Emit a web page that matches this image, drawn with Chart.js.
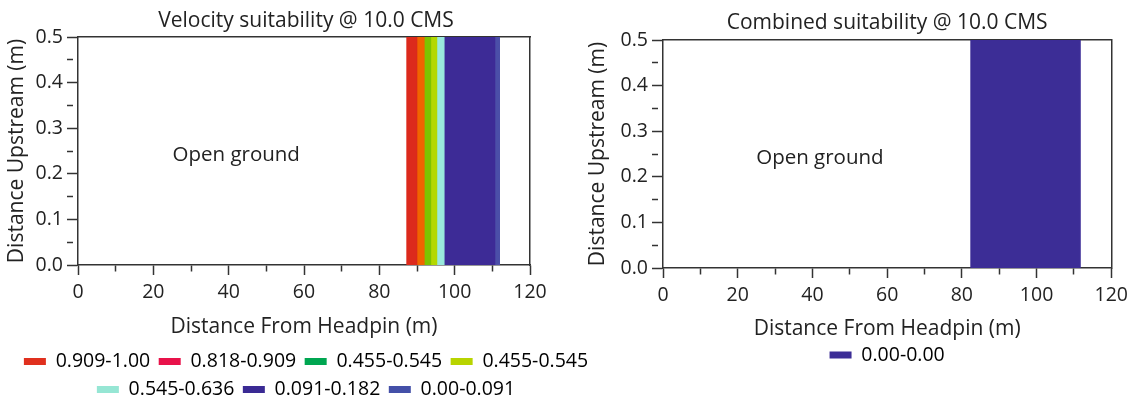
<!DOCTYPE html>
<html>
<head>
<meta charset="utf-8">
<script src="https://cdn.jsdelivr.net/npm/chart.js@4.4.0/dist/chart.umd.min.js"></script>
<style>
  body { margin: 0; background: #fff; width: 1134px; height: 402px; overflow: hidden; position: relative; }
  canvas { position: absolute; top: 0; }
  #velocityChart { left: 0; }
  #combinedChart { left: 580px; }
</style>
</head>
<body>
<canvas id="velocityChart" width="612" height="410"></canvas>
<canvas id="combinedChart" width="554" height="410"></canvas>
<script>
// suitability bands across the reach, distance in m from the headpin
const velocityLabels = ['0.909-1.00', '0.818-0.909', '0.455-0.545', '0.455-0.545', '0.545-0.636', '0.091-0.182', '0.00-0.091'];
const velocityStart = [87.3, 89.9, 91.8, 93.6, 95.2, 97.1, 110.6];
const velocityEnd = [89.9, 91.8, 93.6, 95.2, 97.1, 110.6, 111.9];
const velocityFill = ['#dc2a1c', '#f06400', '#7cc400', '#b4d800', '#9ae9dc', '#3d2b96', '#4b4fa8'];
const velocityKey = ['#e0301e', '#e8124a', '#00a651', '#b8d400', '#96e6d4', '#3a2a94', '#4450a8'];

const combinedLabels = ['0.00-0.00'];
const combinedStart = [82.4];
const combinedEnd = [111.6];
const combinedFill = ['#3c2d96'];
const combinedKey = ['#3c2d96'];

// every band covers the full upstream depth
const bandTop = 0.5;
const xMax = 120;
const xLabelEvery = 20;
const yLabelEvery = 0.1;

const axisColor = '#333';
Chart.defaults.font.family = "'Open Sans', sans-serif";
Chart.defaults.font.size = 19.5;
Chart.defaults.color = '#222';

// "Open ground" note, placed in data units
const groundLabel = {
  id: 'groundLabel',
  afterDatasetsDraw(chart, args, opts) {
    const { ctx, scales: { x, y } } = chart;
    ctx.save();
    ctx.font = "20.5px 'Open Sans', sans-serif";
    ctx.fillStyle = '#222';
    ctx.textAlign = 'center';
    ctx.textBaseline = 'middle';
    ctx.fillText(opts.text, x.getPixelForValue(opts.x), y.getPixelForValue(opts.y));
    ctx.restore();
  }
};

function bandDatasets(labels, start, end, fill) {
  return labels.map((label, i) => ({
    label: label,
    data: [
      { x: start[i], y: 0 },
      { x: start[i], y: bandTop },
      { x: end[i], y: bandTop },
      { x: end[i], y: 0 }
    ],
    showLine: true,
    fill: 'origin',
    backgroundColor: fill[i],
    borderColor: fill[i],
    borderWidth: 1,
    pointRadius: 0
  }));
}

function isMinor(value, every) {
  return Math.abs(value / every - Math.round(value / every)) > 1e-6;
}

function initChart(canvas, setup) {
  const data = { datasets: bandDatasets(setup.labels, setup.start, setup.end, setup.fill) };

  const config = {
    type: 'scatter',
    data: data,
    options: {
      responsive: false,
      animation: false,
      layout: { padding: { bottom: setup.bottomPad } },
      scales: {
        x: {
          type: 'linear',
          min: 0,
          max: xMax,
          ticks: {
            stepSize: 10,
            maxTicksLimit: 20,
            autoSkip: false,
            maxRotation: 0,
            padding: 6,
            callback: (v) => (isMinor(v, xLabelEvery) ? '' : v)
          },
          grid: {
            drawOnChartArea: false,
            tickLength: 10,
            tickColor: axisColor,
            tickWidth: 1.5,
            tickBorderDash: (ctx) => (ctx.tick && isMinor(ctx.tick.value, xLabelEvery) ? [6, 30] : [])
          },
          border: { color: axisColor, width: 1.5 },
          title: {
            display: true,
            text: 'Distance From Headpin (m)',
            font: { size: 21 },
            padding: { top: 0, bottom: setup.xTitlePad }
          },
          afterFit: (s) => { s.height = setup.xHeight; }
        },
        y: {
          type: 'linear',
          min: 0,
          max: bandTop,
          ticks: {
            stepSize: 0.05,
            maxTicksLimit: 20,
            autoSkip: false,
            padding: 4,
            callback: (v) => (isMinor(v, yLabelEvery) ? '' : v.toFixed(1))
          },
          grid: {
            drawOnChartArea: false,
            tickLength: 11,
            tickColor: axisColor,
            tickWidth: 1.5,
            tickBorderDash: (ctx) => (ctx.tick && isMinor(ctx.tick.value, yLabelEvery) ? [6, 30] : [])
          },
          border: { color: axisColor, width: 1.5 },
          title: {
            display: true,
            text: 'Distance Upstream (m)',
            font: { size: 21 },
            padding: { top: setup.yTitlePad, bottom: 0 }
          },
          afterFit: (s) => { s.width = setup.yWidth; }
        },
        // plain frame lines along the top and right of the plot
        x2: {
          position: 'top',
          ticks: { display: false },
          grid: { drawOnChartArea: false, drawTicks: false },
          border: { color: axisColor, width: 1.5 }
        },
        y2: {
          position: 'right',
          ticks: { display: false },
          grid: { drawOnChartArea: false, drawTicks: false },
          border: { color: axisColor, width: 1.5 },
          afterFit: (s) => { s.width = setup.rightWidth; }
        }
      },
      plugins: {
        title: {
          display: true,
          text: setup.title,
          fullSize: setup.fullSize,
          font: { size: 21, weight: 'normal' },
          padding: setup.titlePad
        },
        legend: {
          position: 'bottom',
          fullSize: setup.fullSize,
          labels: {
            boxWidth: 22,
            boxHeight: 7,
            padding: setup.legendPad,
            generateLabels: (chart) => chart.data.datasets.map((ds, i) => ({
              text: ds.label,
              fillStyle: setup.key[i],
              strokeStyle: setup.key[i],
              lineWidth: 0,
              hidden: false,
              datasetIndex: i
            }))
          }
        },
        tooltip: { enabled: false },
        groundLabel: { text: 'Open ground', x: 42, y: 0.24 }
      }
    },
    plugins: [groundLabel]
  };

  return new Chart(canvas, config);
}

function mainEvent() {
  initChart(document.querySelector('#velocityChart'), {
    title: 'Velocity suitability @ 10.0 CMS',
    labels: velocityLabels,
    start: velocityStart,
    end: velocityEnd,
    fill: velocityFill,
    key: velocityKey,
    fullSize: true,
    titlePad: { top: 8.4, bottom: 3.4 },
    xHeight: 78.25,
    xTitlePad: 4.1,
    yWidth: 78,
    yTitlePad: 4.7,
    rightWidth: 82,
    legendPad: 8.5,
    bottomPad: 0.75
  });

  initChart(document.querySelector('#combinedChart'), {
    title: 'Combined suitability @ 10.0 CMS',
    labels: combinedLabels,
    start: combinedStart,
    end: combinedEnd,
    fill: combinedFill,
    key: combinedKey,
    fullSize: false,
    titlePad: { top: 10.4, bottom: 4.4 },
    xHeight: 73.25,
    xTitlePad: 0,
    yWidth: 83,
    yTitlePad: 5.4,
    rightWidth: 18,
    legendPad: 4,
    bottomPad: 35.25
  });
}

document.addEventListener('DOMContentLoaded', () => mainEvent());
</script>
</body>
</html>
